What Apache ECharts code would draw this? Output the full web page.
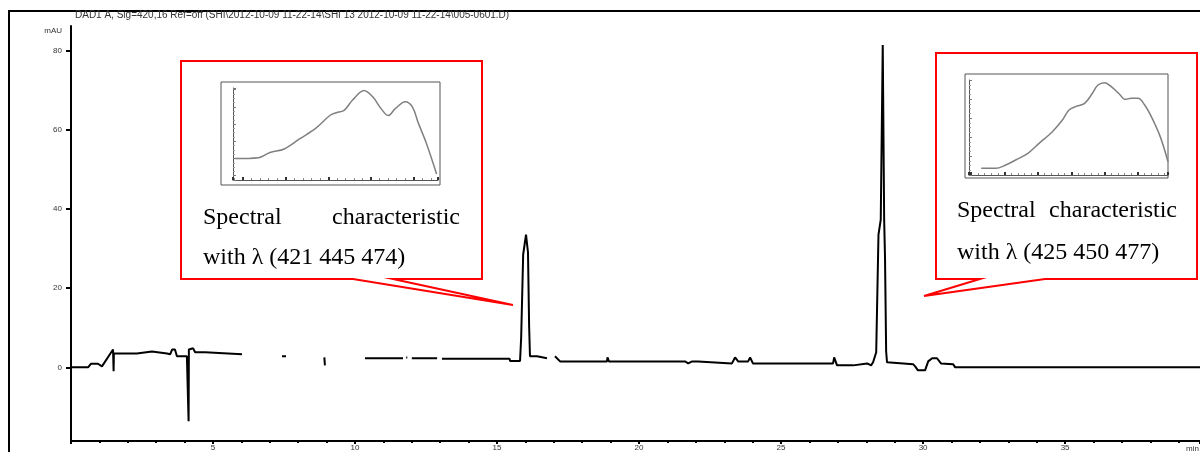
<!DOCTYPE html>
<html>
<head>
<meta charset="utf-8">
<script src="https://cdn.jsdelivr.net/npm/echarts@6/dist/echarts.min.js"></script>
<style>
  html, body { margin: 0; padding: 0; background: #fff; }
  #chart { width: 1200px; height: 452px; }
</style>
</head>
<body>
<div id="chart"></div>
<script>
// chromatogram trace (time in min, signal in mAU), null = gap in the printed trace
const traceTime = [0, 0.60, 0.70, 0.95, 1.09, 1.48, 1.50, 1.51, 2.32, 2.36, 2.85, 2.89, 3.38, 3.49, 3.56, 3.66, 3.73, 4.08, 4.12, 4.14, 4.15, 4.30, 4.37, 4.72, 4.79, 6.02, 6.1,
  7.43, 7.57, 7.65, 8.92, 8.94, 9.0, 10.35, 11.69, 11.75, 11.80, 11.84, 11.9, 12.0, 12.89, 12.95, 13.06, 15.44, 15.46, 15.81, 15.85, 15.92, 16.02, 16.09, 16.13, 16.16,
  16.41, 16.44, 16.76, 16.85, 17.04, 17.22, 18.87, 18.89, 18.94, 21.62, 21.73, 21.87, 22.08, 22.15, 23.27, 23.38, 23.49, 23.84, 23.91, 24.01, 26.09, 26.14, 26.20,
  26.83, 26.87, 26.97, 27.54, 27.57, 28.03, 28.17, 28.24, 28.35, 28.42, 28.43, 28.51, 28.58, 28.63, 28.66, 28.70, 28.73, 28.77, 29.65, 29.72, 29.82, 30.07, 30.18,
  30.32, 30.49, 30.63, 31.06, 31.13, 39.75];
const traceSignal = [0, 0, 0.9, 0.9, 0.25, 4.5, -1.0, 3.5, 3.5, 4.0, 4.0, 3.5, 3.5, 3.3, 4.5, 4.5, 2.8, 2.8, 2.8, -13.6, 4.5, 4.8, 3.8, 3.8, 3.3, 3.3, null,
  2.8, 2.8, null, 2.5, 0.5, null, 2.3, 2.3, null, 2.5, 2.5, null, 2.3, 2.3, null, 2.2, 2.2, 1.6, 1.6, 7.6, 28.5, 33.5, 29.0, 10.3, 2.8,
  2.8, 2.3, 2.3, null, 2.8, 1.5, 1.5, 2.5, 1.5, 1.5, 1.0, 1.5, 1.5, 1.0, 1.0, 2.5, 1.5, 1.5, 2.5, 1.0, 1.0, 0.5, 1.0,
  1.0, 2.5, 0.5, 0.5, 1.0, 1.0, 0.5, 1.3, 3.8, 4.0, 33.5, 37.3, 81.4, 37.3, 27.7, 4.0, 1.3, 0.8, 0.8, 0.25, -0.75, -0.75, 1.5,
  2.3, 2.3, 1.0, 0.8, 0, 0];

// axis ticks
const yMajorTicks = [0, 20, 40, 60, 80];
const yMinorTicks = [-15, -10, -5, 5, 10, 15, 25, 30, 35, 45, 50, 55, 65, 70, 75, 85];
const yLabelValues = [0, 20, 40, 60, 80, 85];

// UV spectra shown in the callouts (wavelength nm, relative absorbance)
const spec1Wave = [354, 371, 379, 389, 400, 411, 421, 425, 431, 437, 445, 451, 457, 462, 467, 474, 479, 483, 489, 496];
const spec1Abs = [20, 21, 27, 31, 43, 55, 70, 73, 76, 88, 99, 92, 78, 70, 78, 86, 80, 62, 37, 2];
const spec2Wave = [339, 352, 361, 370, 381, 391, 403, 412, 418, 424, 432, 439, 444, 450, 456, 464, 468, 474, 480, 486, 492, 500, 507];
const spec2Abs = [7, 7, 10.5, 15.8, 22.8, 33.3, 45.6, 57.9, 68.4, 72, 75.4, 86, 94.7, 97.2, 93, 84.2, 79.6, 80.7, 80.7, 73.7, 61.4, 40.4, 14];

const titleText = 'DAD1 A, Sig=420,16 Ref=off (SHI\\2012-10-09 11-22-14\\SHI 13 2012-10-09 11-22-14\\005-0601.D)';
const callout1 = ['Spectral', 'characteristic', 'with \u03bb (421 445 474)'];
const callout2 = ['Spectral', 'characteristic', 'with \u03bb (425 450 477)'];

const traceData = traceTime.map((t, i) => [t, traceSignal[i] === null ? '-' : traceSignal[i]]);
const spec1Data = spec1Wave.map((w, i) => [w, spec1Abs[i]]);
const spec2Data = spec2Wave.map((w, i) => [w, spec2Abs[i]]);

const chart = echarts.init(document.getElementById('chart'));
const red = '#ff0000';
const serif = '24px "Liberation Serif", "Times New Roman", serif';

function miniX(grid, min, max) {
    return {
        type: 'value', gridIndex: grid, min: min, max: max,
        axisLine: {onZero: false, lineStyle: {color: '#555', width: 1}},
        axisTick: {show: true, inside: true, length: 3, lineStyle: {color: '#333', width: 2}},
        minorTick: {show: true, splitNumber: 5, length: 2, lineStyle: {color: '#888'}},
        axisLabel: {show: false},
        splitLine: {show: false}
    };
}

function miniY(grid, min, max) {
    return {
        type: 'value', gridIndex: grid, min: min, max: max,
        axisLine: {onZero: false, lineStyle: {color: '#555', width: 1}},
        axisTick: {show: true, inside: true, length: 3, lineStyle: {color: '#777'}},
        minorTick: {show: true, splitNumber: 4, length: 2, lineStyle: {color: '#999'}},
        axisLabel: {show: false},
        splitLine: {show: false}
    };
}

const option = {
    animation: false,
    backgroundColor: '#fff',
    grid: [
        {left: 71, top: 26, right: 0, bottom: 10},
        {left: 233, top: 88, width: 205, height: 92},
        {left: 969, top: 80, width: 199, height: 95}
    ],
    xAxis: [
        {
            type: 'value', gridIndex: 0, min: 0, max: 39.75, interval: 5,
            axisLine: {onZero: false, lineStyle: {color: '#000', width: 2}},
            axisTick: {show: true, length: 3, lineStyle: {color: '#000', width: 2}},
            minorTick: {show: true, splitNumber: 5, length: 2, lineStyle: {color: '#000', width: 2}},
            axisLabel: {
                fontSize: 8, color: '#333', margin: 3,
                fontFamily: '"Liberation Sans", Arial, sans-serif',
                showMinLabel: false, showMaxLabel: false,
                formatter: v => (v === 0 ? '' : String(v))
            },
            splitLine: {show: false}
        },
        miniX(1, 353, 497),
        miniX(2, 328, 507)
    ],
    yAxis: [
        {
            type: 'value', gridIndex: 0, min: -18.6, max: 86.2,
            axisLine: {onZero: false, lineStyle: {color: '#000', width: 2}},
            axisTick: {show: true, length: 5, customValues: yMajorTicks, lineStyle: {color: '#000', width: 2}},
            axisLabel: {
                fontSize: 8, color: '#333', margin: 9,
                fontFamily: '"Liberation Sans", Arial, sans-serif',
                customValues: yLabelValues,
                formatter: v => (v === 85 ? 'mAU' : String(v))
            },
            splitLine: {show: false}
        },
        {
            type: 'value', gridIndex: 0, min: -18.6, max: 86.2,
            axisLine: {show: false, onZero: false},
            axisTick: {show: true, length: 3, customValues: yMinorTicks, lineStyle: {color: '#000', width: 2}},
            axisLabel: {show: false},
            splitLine: {show: false}
        },
        miniY(1, -5, 102),
        miniY(2, 0, 100)
    ],
    series: [
        {
            type: 'line', xAxisIndex: 0, yAxisIndex: 0,
            data: traceData, showSymbol: false, connectNulls: false,
            lineStyle: {color: '#000', width: 2}
        },
        {
            type: 'line', xAxisIndex: 1, yAxisIndex: 2,
            data: spec1Data, showSymbol: false, smooth: 0.35,
            lineStyle: {color: '#808080', width: 1.5}
        },
        {
            type: 'line', xAxisIndex: 2, yAxisIndex: 3,
            data: spec2Data, showSymbol: false, smooth: 0.35,
            lineStyle: {color: '#808080', width: 1.5}
        }
    ],
    graphic: [
        // outer frame of the printout
        {type: 'polyline', shape: {points: [[9, 452], [9, 11], [1200, 11]]}, style: {stroke: '#000', lineWidth: 2, fill: null}},
        {type: 'text', x: 75, y: 15, style: {text: titleText, font: '10px "Liberation Sans", Arial, sans-serif', fill: '#333', verticalAlign: 'middle'}},
        {type: 'text', x: 1186, y: 449, style: {text: 'min', font: '8px "Liberation Sans", Arial, sans-serif', fill: '#333', verticalAlign: 'middle'}},
        // callout 1
        {type: 'polygon', shape: {points: [[181, 61], [482, 61], [482, 279], [393, 279], [513, 305], [353, 279], [181, 279]]},
            style: {stroke: red, lineWidth: 2, fill: null}},
        {type: 'rect', shape: {x: 221, y: 82, width: 219, height: 103}, style: {stroke: '#555', lineWidth: 1, fill: null}},
        {type: 'text', x: 203, y: 218, style: {text: callout1[0], font: serif, fill: '#000', verticalAlign: 'middle'}},
        {type: 'text', x: 460, y: 218, style: {text: callout1[1], font: serif, fill: '#000', align: 'right', verticalAlign: 'middle'}},
        {type: 'text', x: 203, y: 258, style: {text: callout1[2], font: serif, fill: '#000', verticalAlign: 'middle'}},
        // callout 2
        {type: 'polygon', shape: {points: [[936, 53], [1197, 53], [1197, 279], [1045, 279], [924, 296], [980, 279], [936, 279]]},
            style: {stroke: red, lineWidth: 2, fill: null}},
        {type: 'rect', shape: {x: 965, y: 74, width: 203, height: 104}, style: {stroke: '#555', lineWidth: 1, fill: null}},
        {type: 'text', x: 957, y: 211, style: {text: callout2[0], font: serif, fill: '#000', verticalAlign: 'middle'}},
        {type: 'text', x: 1177, y: 211, style: {text: callout2[1], font: serif, fill: '#000', align: 'right', verticalAlign: 'middle'}},
        {type: 'text', x: 957, y: 253, style: {text: callout2[2], font: serif, fill: '#000', verticalAlign: 'middle'}}
    ]
};

chart.setOption(option);
</script>
</body>
</html>
